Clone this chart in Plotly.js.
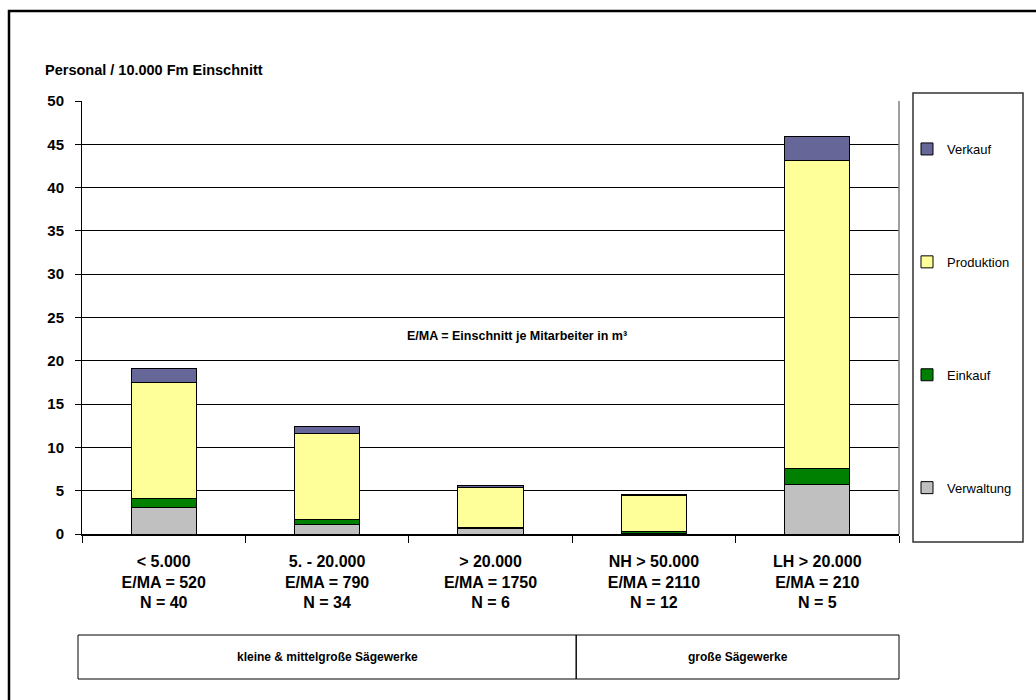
<!DOCTYPE html>
<html>
<head>
<meta charset="utf-8">
<script src="https://cdn.plot.ly/plotly-3.0.1.min.js"></script>
<style>html,body{margin:0;padding:0;background:#fff;}#chart{width:1036px;height:700px;}</style>
</head>
<body>
<div id="chart"></div>
<script>
const categories = ['< 5.000', '5. - 20.000', '> 20.000', 'NH > 50.000', 'LH > 20.000'];
const emaValues = [520, 790, 1750, 2110, 210];
const nValues = [40, 34, 6, 12, 5];
const verwaltung = [3.1, 1.05, 0.6, 0.1, 5.7];
const einkauf = [0.95, 0.6, 0.1, 0.2, 1.85];
const produktion = [13.4, 10.0, 4.7, 4.2, 35.6];
const verkauf = [1.65, 0.8, 0.2, 0.05, 2.8];
const groupLabels = ['kleine & mittelgroße Sägewerke', 'große Sägewerke'];
const groupSpans = [[0, 2], [3, 4]];
const yTicks = [0, 5, 10, 15, 20, 25, 30, 35, 40, 45, 50];

const tickText = categories.map((c, i) => c + '<br>E/MA = ' + emaValues[i] + '<br>N = ' + nValues[i]);

function mk(name, vals, color, rank) {
  return {
    type: 'bar', name: name, x: categories, y: vals, legendgroup: name, legendrank: rank,
    marker: {color: color, line: {color: '#000', width: 1}},
    hoverinfo: 'skip'
  };
}
const data = [
  mk('Verwaltung', verwaltung, '#C0C0C0', 4),
  mk('Einkauf', einkauf, '#008000', 3),
  mk('Produktion', produktion, '#FFFF99', 2),
  mk('Verkauf', verkauf, '#666699', 1)
];

const W = 1036, H = 700, L = 82, R = 137, T = 101, B = 166;
const pw = W - L - R, ph = H - T - B;
const px = v => (v - L) / pw;          // pixel x -> paper
const py = v => (H - B - v) / ph;      // pixel y -> paper

const shapes = [
  {type: 'rect', xref: 'paper', yref: 'paper', x0: px(9), x1: px(1045), y0: py(710), y1: py(11), line: {color: '#000', width: 2.5}, layer: 'below'},
  {type: 'line', xref: 'paper', yref: 'paper', x0: 1, x1: 1, y0: 0, y1: 1, line: {color: '#808080', width: 1.5}},
  {type: 'rect', xref: 'paper', yref: 'paper', x0: px(913), x1: px(1023), y0: py(542), y1: py(93), line: {color: '#333', width: 1.5}},
];
const boxTop = py(635), boxBot = py(679);
const catW = pw / categories.length;
const groupEdges = groupSpans.map((s, i) => [i === 0 ? 78 : L + s[0] * catW + 4, L + (s[1] + 1) * catW + (i === 0 ? 4 : 0)]);
groupEdges.forEach(e => {
  shapes.push({type: 'rect', xref: 'paper', yref: 'paper', x0: px(e[0]), x1: px(e[1]), y0: boxBot, y1: boxTop, line: {color: '#000', width: 1}});
});

const annotations = [
  {text: 'E/MA = Einschnitt je Mitarbeiter in m³', xref: 'paper', yref: 'paper', x: px(517), y: py(336), xanchor: 'center', yanchor: 'middle', showarrow: false,
   font: {family: 'Liberation Sans, Arial, sans-serif', size: 12.5, color: '#000', weight: 'bold'}}
];
groupEdges.forEach((e, i) => {
  annotations.push({text: groupLabels[i], xref: 'paper', yref: 'paper', x: px((e[0] + e[1]) / 2), y: py(657), xanchor: 'center', yanchor: 'middle', showarrow: false,
    font: {family: 'Liberation Sans, Arial, sans-serif', size: 12, color: '#000', weight: 'bold'}});
});

const layout = {
  width: W, height: H,
  margin: {l: L, r: R, t: T, b: B},
  paper_bgcolor: '#fff', plot_bgcolor: '#fff',
  barmode: 'stack', bargap: 0.6,
  font: {family: 'Liberation Sans, Arial, sans-serif', color: '#000'},
  title: {text: '<b>Personal / 10.000 Fm Einschnitt</b>', xref: 'container', yref: 'container', x: 45 / W, xanchor: 'left', y: 1 - 70 / H, yanchor: 'middle',
    font: {size: 14.5, color: '#000'}},
  xaxis: {
    type: 'category', tickvals: categories, ticktext: tickText.map(t => '<b>' + t.replace(/<br>/g, '</b><br><b>') + '</b>'),
    tickson: 'boundaries', ticks: 'outside', ticklen: 7, tickcolor: '#000', tickwidth: 1,
    showline: true, linecolor: '#000', linewidth: 1.5, showgrid: false,
    tickfont: {size: 16, color: '#000'}, ticklabelstandoff: 12, range: [-0.5, 4.5], fixedrange: true
  },
  yaxis: {
    range: [0, 50], tickvals: yTicks, ticktext: yTicks.map(v => '<b>' + v + '</b>'),
    ticks: 'outside', ticklen: 6, tickcolor: '#000', showline: true, linecolor: '#000', linewidth: 1,
    showgrid: true, gridcolor: '#000', gridwidth: 1, zeroline: false,
    tickfont: {size: 15, color: '#000'}, ticklabelstandoff: 8, fixedrange: true
  },
  showlegend: true,
  legend: {
    x: px(907), xanchor: 'left', y: py(134), yanchor: 'top',
    traceorder: 'grouped', tracegroupgap: 93,
    font: {size: 13, color: '#000'}, bgcolor: 'rgba(0,0,0,0)', borderwidth: 0, itemwidth: 30
  },
  shapes: shapes,
  annotations: annotations
};

Plotly.newPlot('chart', data, layout, {displayModeBar: false, staticPlot: true});
</script>
</body>
</html>
